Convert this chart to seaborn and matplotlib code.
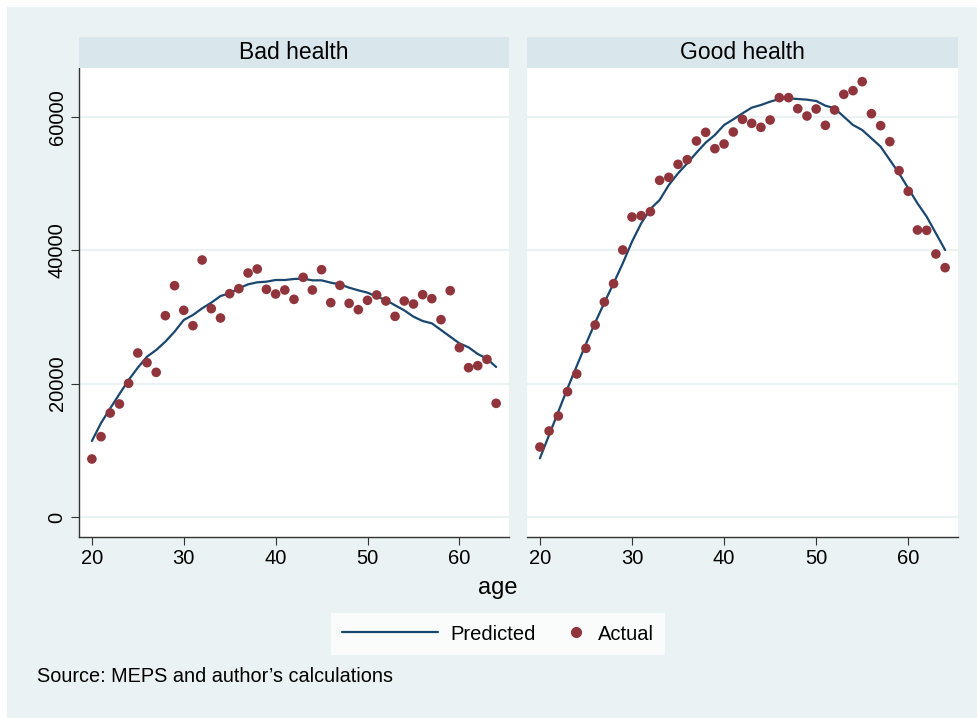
import numpy as np
import pandas as pd
import matplotlib
matplotlib.use("Agg")
import matplotlib.pyplot as plt
from matplotlib.lines import Line2D
from matplotlib.patches import Rectangle
from matplotlib.legend_handler import HandlerLine2D
import seaborn as sns

# ---- data: mean earnings by age, actual vs. model prediction ----
ages = list(range(20, 65))

bad_actual = [8700, 12050, 15600, 16950, 20050, 24600, 23150, 21700, 30200, 34700,
              31000, 28700, 38550, 31250, 29850, 33500, 34250, 36600, 37200, 34150,
              33450, 34050, 32650, 35950, 34050, 37100, 32150, 34750, 32050, 31100,
              32500, 33300, 32400, 30100, 32400, 31950, 33350, 32750, 29600, 33950,
              25400, 22400, 22700, 23650, 17050]
bad_pred = [11400, 14100, 16300, 18450, 20550, 22400, 24050, 25050, 26300, 27800,
            29550, 30300, 31300, 32150, 33150, 33550, 34300, 34900, 35200, 35300,
            35550, 35550, 35700, 35750, 35500, 35500, 35150, 34900, 34400, 34000,
            33650, 33050, 32550, 31750, 31000, 30050, 29400, 29050, 28050, 27050,
            26050, 25450, 24450, 23750, 22500]

good_actual = [10500, 12900, 15150, 18800, 21450, 25300, 28800, 32250, 35000, 40050,
               45000, 45200, 45800, 50500, 50950, 52900, 53600, 56400, 57700, 55250,
               55950, 57750, 59650, 59050, 58450, 59550, 62900, 62900, 61250, 60150,
               61200, 58750, 61050, 63400, 63950, 65300, 60500, 58700, 56300, 51950,
               48850, 43050, 43000, 39450, 37400]
good_pred = [8800, 12300, 15800, 19300, 22650, 25950, 29150, 32150, 35050, 38050,
             41300, 44050, 46200, 47550, 49800, 51550, 53050, 54650, 56150, 57300,
             58800, 59650, 60550, 61400, 61800, 62300, 62700, 62800, 62700, 62600,
             62400, 61700, 61300, 60050, 58800, 58050, 56800, 55550, 53550, 51550,
             49300, 47050, 45050, 42550, 40050]

panels = ["Bad health", "Good health"]
y_ticks = [0, 20000, 40000, 60000]
x_ticks = [20, 30, 40, 50, 60]

df = pd.concat([
    pd.DataFrame({"age": ages, "health": "Bad health",
                  "Actual": bad_actual, "Predicted": bad_pred}),
    pd.DataFrame({"age": ages, "health": "Good health",
                  "Actual": good_actual, "Predicted": good_pred}),
], ignore_index=True)

# ---- style ----
sns.set_style("white")
plt.rcParams["font.family"] = ["Liberation Sans", "DejaVu Sans"]
plt.rcParams["text.color"] = "black"
plt.rcParams["xtick.color"] = "#333333"
plt.rcParams["ytick.color"] = "#333333"
plt.rcParams["xtick.labelcolor"] = "black"
plt.rcParams["ytick.labelcolor"] = "black"

BG = "#EAF2F3"
STRIP = "#D9E6EB"
LINE_C = "#1A476F"
DOT_C = "#90353B"
TICK_FS = 14.5

W, H = 977, 718
fig = plt.figure(figsize=(W / 100, H / 100), dpi=100)
fig.patch.set_facecolor("white")
fig.add_artist(Rectangle((7 / W, 0), 1 - 7 / W, 1 - 7 / H, transform=fig.transFigure,
                         facecolor=BG, edgecolor="none", zorder=-10))

def fx(px):
    return px / W

def fy(py):
    return 1 - py / H

ax_left = [79, 527]
ax_w = [430, 431]
top, bottom, strip_top = 68, 537, 37

axes = []
for i, name in enumerate(panels):
    ax = fig.add_axes([fx(ax_left[i]), fy(bottom), ax_w[i] / W, (bottom - top) / H])
    sub = df[df["health"] == name]
    for yv in y_ticks:
        ax.axhline(yv, color=BG, lw=1.5, zorder=0)
    sns.lineplot(data=sub, x="age", y="Predicted", ax=ax, color=LINE_C, lw=1.6,
                 zorder=3)
    sns.scatterplot(data=sub, x="age", y="Actual", ax=ax, color=DOT_C, s=48,
                    edgecolor="none", zorder=4)
    ax.set_xlim(18.6, 65.4)
    ax.set_ylim(-3000, 67350)
    ax.set_xticks(x_ticks)
    ax.set_yticks(y_ticks)
    ax.set_xlabel("")
    ax.set_ylabel("")
    ax.set_facecolor("white")
    for s in ["top", "right"]:
        ax.spines[s].set_visible(False)
    ax.spines["bottom"].set_color("#333333")
    ax.spines["bottom"].set_linewidth(1.0)
    ax.tick_params(axis="x", direction="out", length=6, width=0.8,
                   labelsize=TICK_FS, pad=3, bottom=True)
    if i == 0:
        ax.spines["left"].set_color("#333333")
        ax.spines["left"].set_linewidth(1.0)
        ax.tick_params(axis="y", direction="out", length=6, width=0.8,
                       labelsize=TICK_FS, pad=3, left=True)
        for lab in ax.get_yticklabels():
            lab.set_rotation(90)
            lab.set_va("center")
    else:
        ax.spines["left"].set_visible(False)
        ax.tick_params(axis="y", left=False, labelleft=False)
    # facet header strip
    fig.add_artist(Rectangle((fx(ax_left[i]), fy(top)), ax_w[i] / W,
                             (top - strip_top) / H, transform=fig.transFigure,
                             facecolor=STRIP, edgecolor="none"))
    fig.text(fx(ax_left[i] + ax_w[i] / 2), fy((top + strip_top) / 2), name,
             ha="center", va="center", fontsize=16.5)
    axes.append(ax)

fig.text(fx(498), fy(588), "age", ha="center", va="center", fontsize=17)


class LongLineHandler(HandlerLine2D):
    """Line legend key drawn wider than the marker keys."""

    def __init__(self, scale, **kw):
        super().__init__(**kw)
        self.scale = scale

    def legend_artist(self, legend, orig_handle, fontsize, handlebox):
        handlebox.width = handlebox.width * self.scale
        return super().legend_artist(legend, orig_handle, fontsize, handlebox)


line_handle = Line2D([], [], color=LINE_C, lw=1.6)
dot_handle = Line2D([], [], color=DOT_C, marker="o", ls="none", markersize=7)
leg = fig.legend([line_handle, dot_handle], ["Predicted", "Actual"], loc="center",
                 bbox_to_anchor=(fx(498), fy(634)), ncol=2, frameon=True,
                 fontsize=TICK_FS, handlelength=1.0, columnspacing=1.5,
                 handletextpad=0.6, borderpad=0.55, borderaxespad=0,
                 fancybox=False,
                 handler_map={line_handle: LongLineHandler(4.8)})
leg.get_frame().set_facecolor("white")
leg.get_frame().set_edgecolor("white")
leg.get_frame().set_linewidth(0)

fig.text(fx(37), fy(677), "Source: MEPS and author\u2019s calculations",
         ha="left", va="center", fontsize=14.3)

fig.savefig("out.png", dpi=100, facecolor=fig.get_facecolor())
